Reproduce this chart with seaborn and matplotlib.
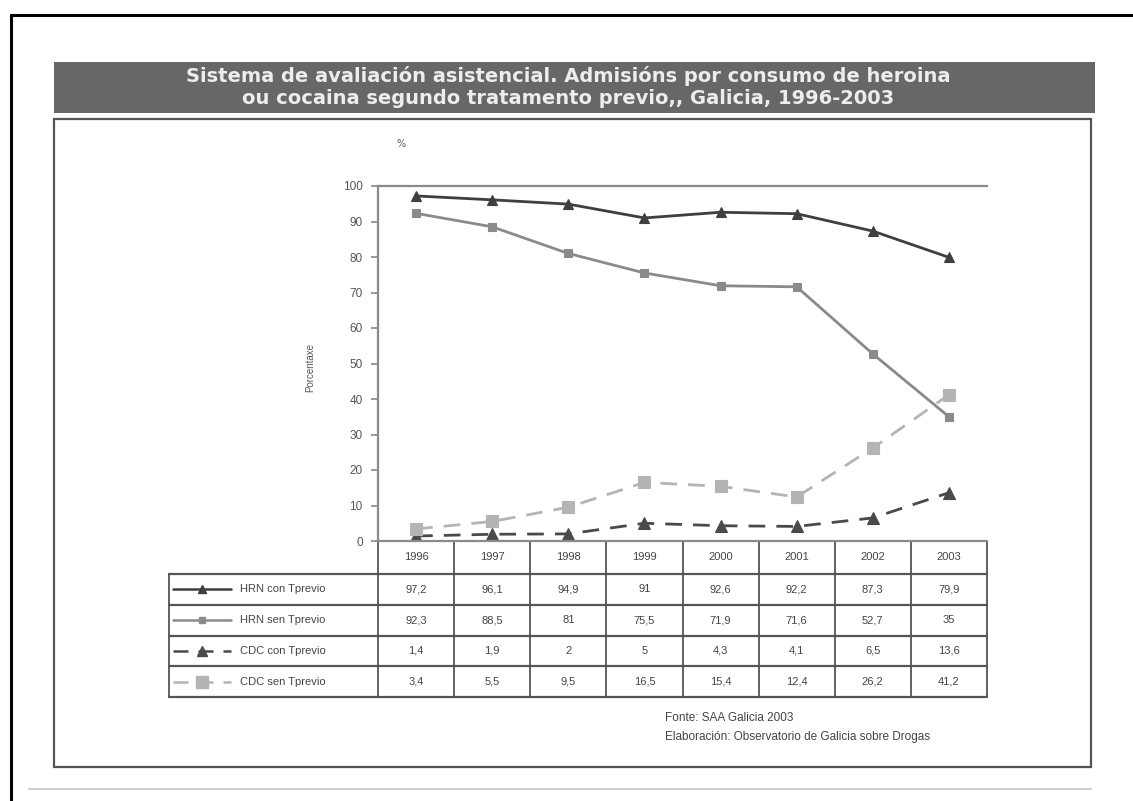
import numpy as np
import pandas as pd
import matplotlib
matplotlib.use("Agg")
import matplotlib.pyplot as plt
from matplotlib.patches import Rectangle
import seaborn as sns

# ---- data -------------------------------------------------------------
years = ["1996", "1997", "1998", "1999", "2000", "2001", "2002", "2003"]
series_names = ["HRN con Tprevio", "HRN sen Tprevio", "CDC con Tprevio", "CDC sen Tprevio"]
hrn_con = [97.2, 96.1, 94.9, 91.0, 92.6, 92.2, 87.3, 79.9]
hrn_sen = [92.3, 88.5, 81.0, 75.5, 71.9, 71.6, 52.7, 35.0]
cdc_con = [1.4, 1.9, 2.0, 5.0, 4.3, 4.1, 6.5, 13.6]
cdc_sen = [3.4, 5.5, 9.5, 16.5, 15.4, 12.4, 26.2, 41.2]
y_ticks = [0, 10, 20, 30, 40, 50, 60, 70, 80, 90, 100]

title_lines = ["Sistema de avaliación asistencial. Admisións por consumo de heroina",
               "ou cocaina segundo tratamento previo,, Galicia, 1996-2003"]
source_lines = ["Fonte: SAA Galicia 2003",
                "Elaboración: Observatorio de Galicia sobre Drogas"]

# ---- styling ------------------------------------------------------------
sns.set_theme(style="white")
plt.rcParams["font.family"] = ["DejaVu Sans"]
NARROW = ["Liberation Sans Narrow", "Liberation Sans", "DejaVu Sans"]

styles = [
    dict(color="#3f3f3f", marker="^", markersize=7, linestyle="-"),
    dict(color="#8a8a8a", marker="s", markersize=6, linestyle="-"),
    dict(color="#4a4a4a", marker="^", markersize=8, linestyle=(0, (6, 4))),
    dict(color="#b4b4b4", marker="s", markersize=9, linestyle=(0, (6, 4))),
]
values = [hrn_con, hrn_sen, cdc_con, cdc_sen]

W, H = 1133, 801
fig = plt.figure(figsize=(W / 100, H / 100), dpi=100)
fig.patch.set_facecolor("white")


def rect(l, t, r, b):
    return [l / W, 1 - b / H, (r - l) / W, (b - t) / H]


# overlay in pixel units for frames, banner and table
ov = fig.add_axes([0, 0, 1, 1], zorder=0)
ov.set_xlim(0, W)
ov.set_ylim(H, 0)
ov.axis("off")

# page border
ov.plot([11, 11], [15, H], color="black", lw=2.2)
ov.plot([11, W], [15, 15], color="black", lw=2.2)
# banner
ov.add_patch(Rectangle((54, 62), 1041, 51, facecolor="#676767", edgecolor="none"))
for i, line in enumerate(title_lines):
    ov.text(568, 76 + i * 22, line, ha="center", va="center", color="#ededed",
            fontsize=14, fontweight="bold")
# inner box
ov.add_patch(Rectangle((54, 119), 1037, 648, facecolor="none", edgecolor="#555555", lw=1.6))
ov.plot([29, 1091], [789, 789], color="#cfcfcf", lw=1.5)

# source notes
for i, line in enumerate(source_lines):
    ov.text(665, 718 + i * 19, line, ha="left", va="center", color="#444444",
            fontsize=8.5, family=NARROW)

# ---- main chart -----------------------------------------------------------
ax_l, ax_t, ax_r, ax_b = 378, 186, 987, 541
ax = fig.add_axes(rect(ax_l, ax_t, ax_r, ax_b), zorder=2)
ax.patch.set_alpha(0)
x = np.arange(len(years))
for name, vals, st in zip(series_names, values, styles):
    df = pd.DataFrame({"x": x, "y": vals})
    sns.lineplot(data=df, x="x", y="y", ax=ax, color=st["color"], marker=st["marker"],
                 markersize=st["markersize"], markeredgecolor=st["color"],
                 markeredgewidth=0.8, linewidth=2.0, linestyle=st["linestyle"],
                 legend=False)

ax.set_xlim(-0.5, len(years) - 0.5)
ax.set_ylim(0, 100)
ax.set_yticks(y_ticks)
ax.set_yticklabels([str(t) for t in y_ticks], fontsize=8.5, color="#555555", family=NARROW)
ax.set_xticks([])
ax.tick_params(axis="y", length=5, width=1.2, color="#888888", left=True, pad=6)
ax.set_xlabel("")
ax.set_ylabel("")
for side in ["left", "bottom", "top"]:
    ax.spines[side].set_visible(True)
    ax.spines[side].set_color("#8a8a8a")
    ax.spines[side].set_linewidth(1.6)
ax.spines["right"].set_visible(False)

ov.text(310, 367, "Porcentaxe", rotation=90, ha="center", va="center",
        fontsize=7, color="#555555", family=NARROW)
ov.text(401, 144, "%", ha="center", va="center", fontsize=7, color="#555555")

# ---- data table ------------------------------------------------------------
col_w = (ax_r - ax_l) / len(years)
col_x = [ax_l + i * col_w for i in range(len(years) + 1)]
hdr_b = 574
row_h = (697 - hdr_b) / len(series_names)
row_y = [hdr_b + i * row_h for i in range(len(series_names) + 1)]
leg_l = 169
line_c = "#555555"

# header row
for cx in col_x:
    ov.plot([cx, cx], [ax_b, row_y[-1]], color=line_c, lw=1.3)
for i, yr in enumerate(years):
    ov.text(col_x[i] + col_w / 2, (ax_b + hdr_b) / 2, yr, ha="center", va="center",
            fontsize=8, color="#444444", family=NARROW)
# data rows
for ry in row_y:
    ov.plot([leg_l, ax_r], [ry, ry], color=line_c, lw=1.6)
ov.plot([leg_l, leg_l], [row_y[0], row_y[-1]], color=line_c, lw=1.3)


def fmt(v):
    s = f"{v:.1f}".rstrip("0").rstrip(".")
    return s.replace(".", ",")


for r, (name, vals, st) in enumerate(zip(series_names, values, styles)):
    cy = (row_y[r] + row_y[r + 1]) / 2
    ov.plot([173, 231], [cy, cy], color=st["color"], lw=1.8, linestyle=st["linestyle"])
    ov.plot([202], [cy], color=st["color"], marker=st["marker"],
            markersize=st["markersize"] - 1, markeredgecolor=st["color"])
    ov.text(240, cy, name, ha="left", va="center", fontsize=8, color="#444444",
            family=NARROW)
    for i, v in enumerate(vals):
        ov.text(col_x[i] + col_w / 2, cy, fmt(v), ha="center", va="center",
                fontsize=8, color="#444444", family=NARROW)

fig.savefig("out.png", dpi=100, facecolor="white")
